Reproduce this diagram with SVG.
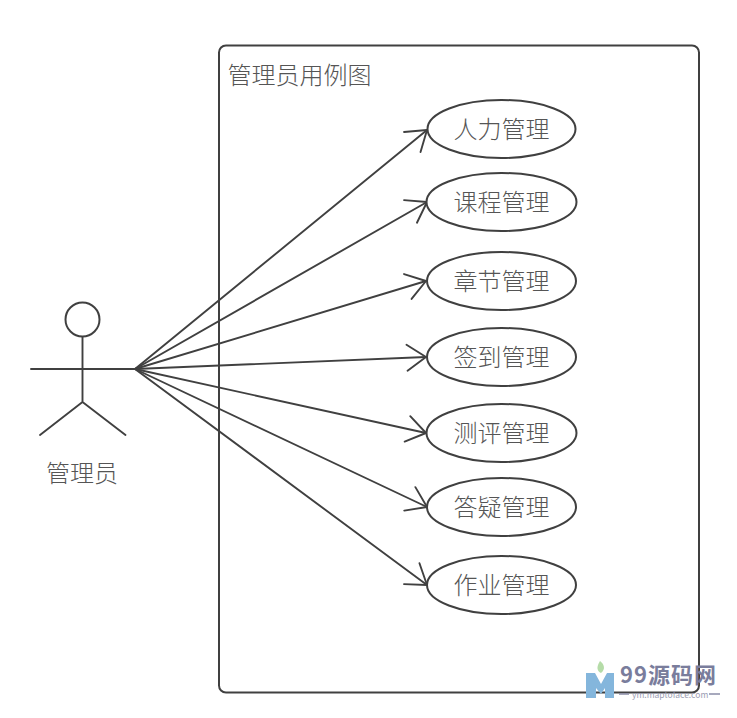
<svg xmlns="http://www.w3.org/2000/svg" width="737" height="718" viewBox="0 0 737 718">
<style>
.l{fill:none;stroke:#404040;stroke-width:1.900;stroke-linecap:round;stroke-linejoin:round}
.u{fill:#fff;stroke:#404040;stroke-width:2}
text{font-family:"Noto Sans CJK SC","Noto Sans CJK JP",sans-serif;font-weight:300;fill:#555;font-size:24px}
.c{text-anchor:middle}
</style>
<defs>
<marker id="a" markerUnits="userSpaceOnUse" markerWidth="24" markerHeight="30" refX="21" refY="15" orient="auto" viewBox="0 0 24 30">
<path d="M2 2L21 15L2 28" class="l"/>
</marker>
</defs>
<rect width="737" height="718" fill="#fff"/>
<g id="boundary"><rect x="219" y="45.500" width="480" height="647" rx="7" fill="none" stroke="#404040" stroke-width="2"/>
<text x="227.500" y="84">管理员用例图</text></g>
<g id="connectors">
<path class="l" d="M135 369L427 130" marker-end="url(#a)"/>
<path class="l" d="M135 369L427 202" marker-end="url(#a)"/>
<path class="l" d="M135 369L426 281" marker-end="url(#a)"/>
<path class="l" d="M135 369L426 357" marker-end="url(#a)"/>
<path class="l" d="M135 369L426 433" marker-end="url(#a)"/>
<path class="l" d="M135 369L427 507" marker-end="url(#a)"/>
<path class="l" d="M135 369L427 585" marker-end="url(#a)"/>
</g>
<g id="actor">
<circle cx="82.500" cy="319.500" r="17" fill="#fff" stroke="#404040" stroke-width="2"/>
<path class="l" d="M82.500 337V402M31 369H135M40 435L82.500 402L125.500 435"/>
<text class="c" x="82" y="482">管理员</text>
</g>
<g id="uc1"><ellipse class="u" cx="501.500" cy="129" rx="74" ry="29"/><text class="c" x="501.500" y="138">人力管理</text></g>
<g id="uc2"><ellipse class="u" cx="501.500" cy="202" rx="75" ry="29"/><text class="c" x="501.500" y="211">课程管理</text></g>
<g id="uc3"><ellipse class="u" cx="501.500" cy="281" rx="74.500" ry="29"/><text class="c" x="501.500" y="290">章节管理</text></g>
<g id="uc4"><ellipse class="u" cx="501.500" cy="357" rx="74.500" ry="29"/><text class="c" x="501.500" y="366">签到管理</text></g>
<g id="uc5"><ellipse class="u" cx="501.500" cy="433" rx="75" ry="29"/><text class="c" x="501.500" y="442">测评管理</text></g>
<g id="uc6"><ellipse class="u" cx="501.500" cy="507" rx="74.500" ry="29"/><text class="c" x="501.500" y="516">答疑管理</text></g>
<g id="uc7"><ellipse class="u" cx="501.500" cy="585" rx="74.500" ry="29"/><text class="c" x="501.500" y="594">作业管理</text></g>
<g id="watermark">
<path d="M586 673H595L601 684L607 673H614V698H605V688L601 694L596 688V698H586Z" fill="#84b6dc"/>
<path d="M600 661C604 664 606 669 601 673C597 671 596 667 600 661Z" fill="#b5dca8"/>
<text x="620" y="683" style="font-size:22px;font-weight:700;fill:#7a7d9c;letter-spacing:1px">99源码网</text>
<path d="M619 694H629M709 694H720" stroke="#8a8da8" stroke-width="1.500"/>
<text x="632" y="698" style="font-size:8.500px;font-weight:400;fill:#9a9cb2">ym.maptoface.com</text>
</g>
</svg>
